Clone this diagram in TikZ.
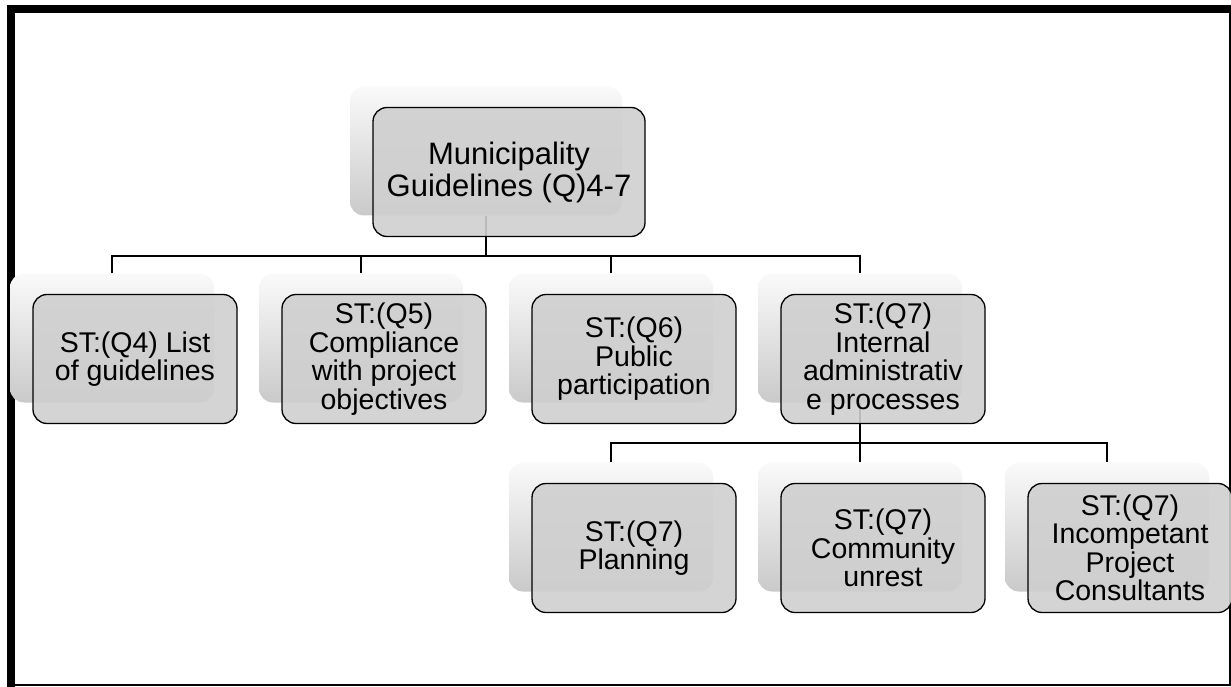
\documentclass[tikz,border=0pt]{standalone}
\usepackage{fontspec}
\setmainfont{Liberation Sans}
\usetikzlibrary{positioning}

\begin{document}
\begin{tikzpicture}[
    x=1pt, y=-1pt,
    card/.style={
        rectangle,
        rounded corners=14pt,
        draw=black,
        line width=1.3pt,
        fill=gray!38,
        fill opacity=0.9,
        text opacity=1,
        minimum width=204pt,
        minimum height=129pt,
        inner sep=1pt,
        align=center,
        font=\fontsize{28.5}{28.5}\selectfont
    },
    cardback/.style={
        rectangle,
        rounded corners=14pt,
        top color=gray!4,
        bottom color=gray!42,
        minimum width=204pt,
        minimum height=129pt
    },
    link/.style={draw=black, line width=1.3pt}
]
    \useasboundingbox (0,0) rectangle (1231,687);

    % Frame
    \draw[line width=8pt] (11,687) -- (11,9) -- (1231,9);
    \draw[line width=1.5pt] (1230,9) -- (1230,685) -- (11,685);

    % Back cards
    \node[cardback, minimum width=272pt] (rootb) at (486,151) {};
    \node[cardback] (q4b) at (112,338) {};
    \node[cardback] (q5b) at (361,338) {};
    \node[cardback] (q6b) at (611,338) {};
    \node[cardback] (q7b) at (860,338) {};
    \node[cardback] (planb) at (611,527) {};
    \node[cardback] (unrestb) at (860,527) {};
    \node[cardback] (consb) at (1107,527) {};

    % Connectors
    \coordinate (bus1) at (0,256);
    \coordinate (bus2) at (0,443);
    \draw[link] (rootb.south) -- (rootb.south |- bus1);
    \draw[link] (q4b.north) -- (q4b.north |- bus1) -- (q7b.north |- bus1) -- (q7b.north);
    \foreach \n in {q5b,q6b}
        \draw[link] (\n.north) -- (\n.north |- bus1);
    \draw[link] (q7b.south) -- (q7b.south |- bus2);
    \draw[link] (planb.north) -- (planb.north |- bus2) -- (consb.north |- bus2) -- (consb.north);
    \draw[link] (unrestb.north) -- (unrestb.north |- bus2);

    % Front cards
    \node[card, minimum width=272pt, font=\fontsize{31}{32}\selectfont] (root) at ([shift={(23,21)}]rootb) {Municipality\\Guidelines (Q)4-7};
    \node[card] (q4) at ([shift={(23,21)}]q4b) {ST:(Q4) List\\of guidelines};
    \node[card] (q5) at ([shift={(23,21)}]q5b) {ST:(Q5)\\Compliance\\with project\\objectives};
    \node[card] (q6) at ([shift={(23,21)}]q6b) {ST:(Q6)\\Public\\participation};
    \node[card] (q7) at ([shift={(23,21)}]q7b) {ST:(Q7)\\Internal\\administrativ\\e processes};
    \node[card] (plan) at ([shift={(23,21)}]planb) {ST:(Q7)\\Planning};
    \node[card] (unrest) at ([shift={(23,21)}]unrestb) {ST:(Q7)\\Community\\unrest};
    \node[card] (cons) at ([shift={(23,21)}]consb) {ST:(Q7)\\Incompetant\\Project\\Consultants};
\end{tikzpicture}
\end{document}
